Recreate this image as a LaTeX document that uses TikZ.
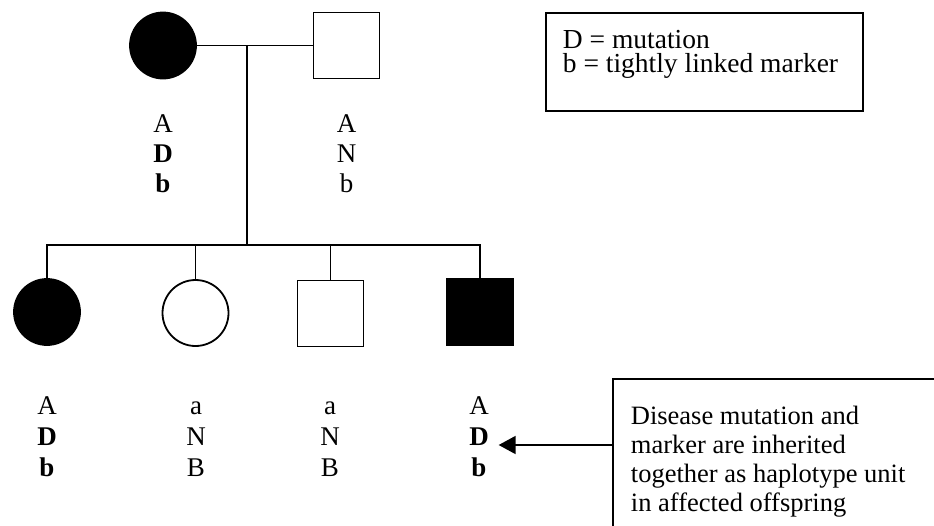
\documentclass[tikz,border=0pt]{standalone}
\usepackage{fontspec}
\setmainfont{Liberation Serif}
\usetikzlibrary{arrows.meta}
\begin{document}
\begin{tikzpicture}[x=1pt, y=-1pt, line width=1.8pt,
  female/.style={circle, draw, minimum size=66pt, inner sep=0pt},
  male/.style={rectangle, draw, minimum size=66pt, inner sep=0pt},
  affected/.style={fill=black},
  allele/.style={font=\fontsize{27}{30}\selectfont, inner sep=0pt, anchor=base},
  frame/.style={draw, rectangle, inner sep=0pt, anchor=north west},
  legendtext/.style={font=\fontsize{27.5}{24}\selectfont, inner sep=0pt,
    anchor=north west, align=left},
  notetext/.style={font=\fontsize{26.5}{29}\selectfont, inner sep=0pt, anchor=base west},
  pointer/.style={-{Triangle[length=17pt, width=18pt]}}
]
\useasboundingbox (0,0) rectangle (934,525);
\clip (0,0) rectangle (934,525);

% parents
\node[female, affected] (mother) at (163,45.5) {};
\node[male] (father) at (346.5,45.5) {};

% offspring
\node[female, affected] (c1) at (47,312) {};
\node[female] (c2) at (195.5,313) {};
\node[male] (c3) at (330.5,313.5) {};
\node[male, affected] (c4) at (480,312) {};

% mating line, descent line and sibship line
\coordinate (mate) at (247,45.5);
\coordinate (sib) at (247,245);
\draw (mother) -- (father);
\draw (mate) -- (sib);
\draw (c1) -- (c1 |- sib) -- (c4 |- sib) -- (c4);
\draw (c2 |- sib) -- (c2);
\draw (c3 |- sib) -- (c3);

% haplotypes under each individual
\foreach \p/\x/\b/\s/\u/\v/\w in {
    mo/163/132/30/A/\textbf{D}/\textbf{b},
    fa/346.5/132/30/A/N/b,
    k1/47/414/31/A/\textbf{D}/\textbf{b},
    k2/196/414/31/a/N/B,
    k3/330/414/31/a/N/B,
    k4/479/414/31/A/\textbf{D}/\textbf{b}} {
  \node[allele] (\p-1) at (\x,\b) {\u};
  \node[allele] (\p-2) at (\x,{\b+\s}) {\v};
  \node[allele] (\p-3) at (\x,{\b+2*\s}) {\w};
}

% legend
\node[frame, minimum width=317pt, minimum height=98pt] (legendbox) at (545,12) {};
\node[legendtext] (legend) at (562,29) {D = mutation\\ b = tightly linked marker};

% explanatory note
\node[frame, minimum width=340pt, minimum height=160pt] (notebox) at (612,378) {};
\foreach \i/\t in {1/Disease mutation and, 2/marker are inherited,
                   3/together as haplotype unit, 4/in affected offspring} {
  \node[notetext] (note-\i) at (630,{424+29*(\i-1)}) {\t};
}

\draw[pointer] (notebox.west |- k4-2.base) -- ([xshift=9pt]k4-2.base east);
\end{tikzpicture}
\end{document}
